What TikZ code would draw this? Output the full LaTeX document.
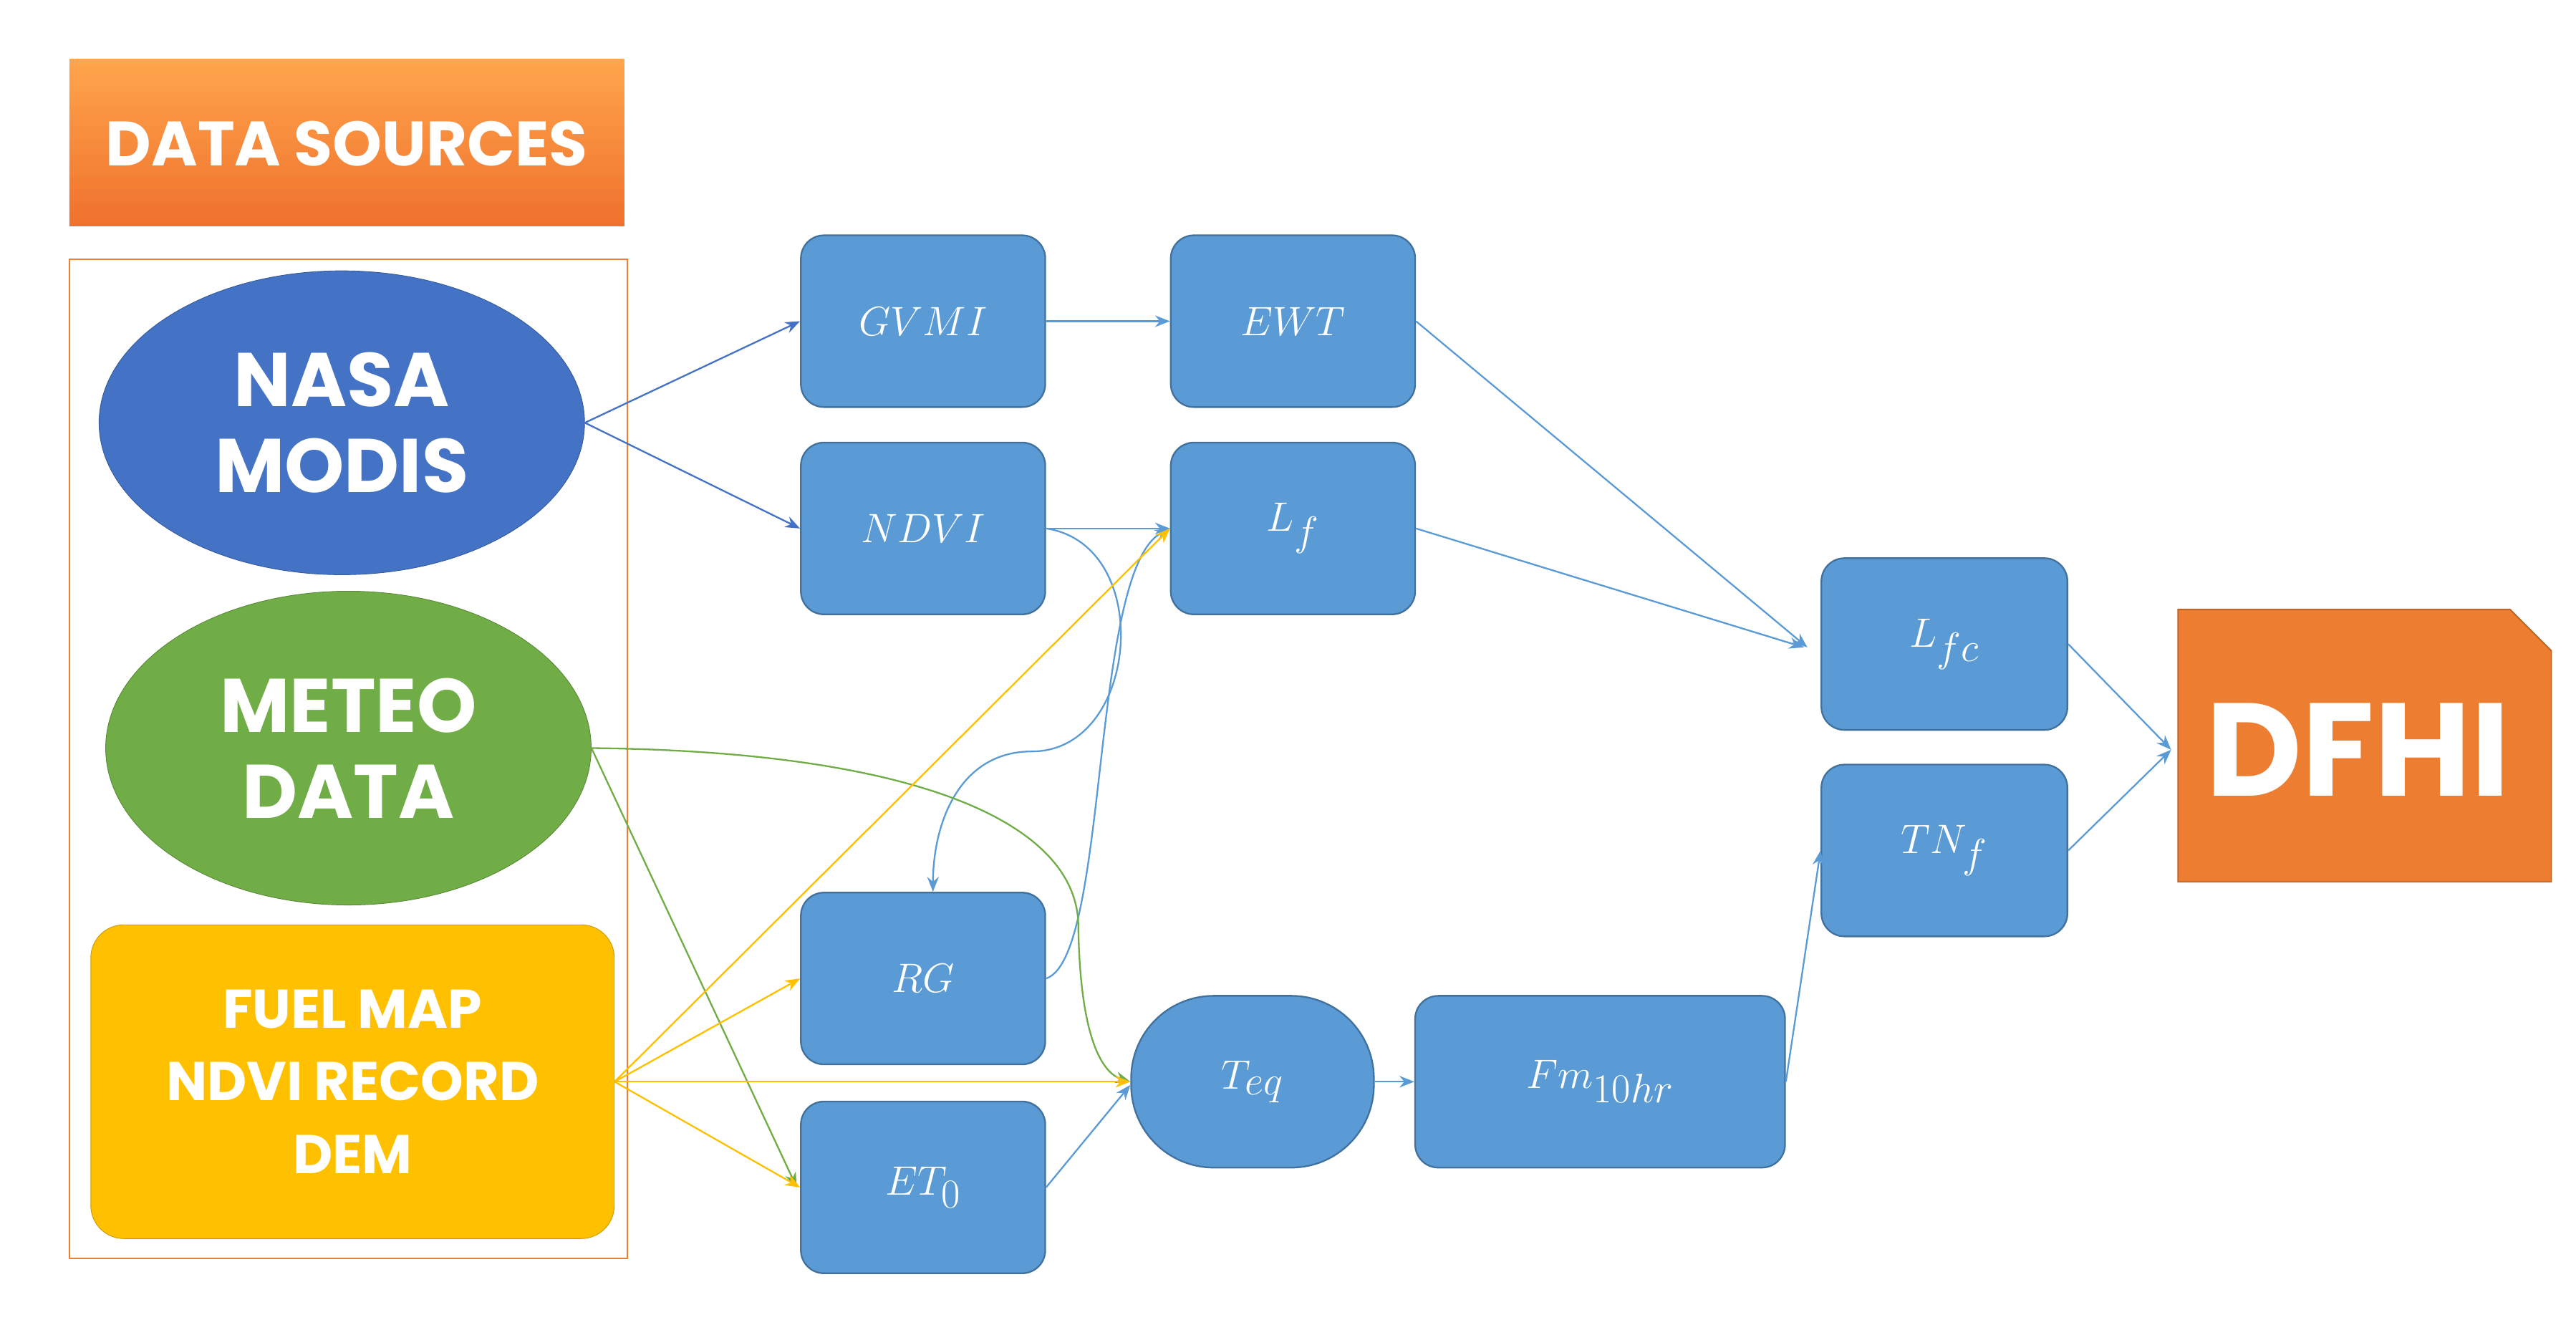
\documentclass[tikz,border=0pt]{standalone}
\usepackage{fontspec}
\setmainfont{Poppins}
\usetikzlibrary{arrows.meta,shapes.geometric}
\definecolor{bx}{HTML}{5B9BD5}
\definecolor{bxd}{HTML}{41719C}
\definecolor{nasa}{HTML}{4472C4}
\definecolor{met}{HTML}{70AD47}
\definecolor{fuel}{HTML}{FFC000}
\definecolor{org}{HTML}{ED7D31}
\tikzset{
 box/.style={draw=bxd,fill=bx,rounded corners=14pt,line width=1pt,text=white,minimum width=148pt,minimum height=104pt,font=\fontsize{52}{60}\selectfont},
 ar/.style={line width=1pt,-{Stealth[length=9pt,width=7pt]}},
 bl/.style={ar,draw=bx},
}
\begin{document}
\begin{tikzpicture}[x=1pt,y=-1pt]
\useasboundingbox (0,0) rectangle (1560,799);
% data sources
\shade[top color=orange!70!white,bottom color=org!90!red,draw=none] (42,36) rectangle (378,137);
\node[text=white,font=\fontsize{38}{44}\selectfont\bfseries] (ds) at (210,87) {DATA SOURCES};
\node[draw=org,line width=1pt,minimum width=338pt,minimum height=605pt,inner sep=0] (frame) at (211,459.5) {};
\node[ellipse,fill=nasa,draw=nasa!80!black,minimum width=294pt,minimum height=184pt,text=white,font=\fontsize{46}{52}\selectfont\bfseries,align=center] (nasa) at (207,256) {NASA\\MODIS};
\node[ellipse,fill=met,draw=met!80!black,minimum width=294pt,minimum height=190pt,text=white,font=\fontsize{46}{52}\selectfont\bfseries,align=center] (met) at (211,453) {METEO\\DATA};
\node[fill=fuel,draw=fuel!80!black,rounded corners=20pt,minimum width=317pt,minimum height=190pt,text=white,font=\fontsize{33}{44}\selectfont\bfseries,align=center] (fuel) at (213.5,655) {FUEL MAP\\NDVI RECORD\\DEM};
% boxes
\node[box] (gvmi) at (559,194.5) {$GVMI$};
\node[box] (ewt) at (783,194.5) {$EWT$};
\node[box] (ndvi) at (559,320) {$NDVI$};
\node[box] (lf) at (783,320) {$L_f$};
\node[box] (rg) at (559,592.5) {$RG$};
\node[box] (et) at (559,719) {$ET_0$};
\node[box,rounded corners=50pt,minimum width=147pt] (teq) at (758.5,655) {$T_{eq}$};
\node[box,minimum width=224pt] (fm) at (969,655) {$Fm_{10hr}$};
\node[box,minimum width=149pt] (lfc) at (1177.5,390) {$L_{fc}$};
\node[box,minimum width=149pt] (tnf) at (1177.5,515) {$TN_f$};
\fill[org] (1319,369) -- (1520,369) -- (1545,394) -- (1545,534) -- (1319,534) -- cycle;
\draw[org!80!black,line width=0.8pt] (1319,369) -- (1520,369) -- (1545,394) -- (1545,534) -- (1319,534) -- cycle;
\node[text=white,font=\fontsize{80}{90}\selectfont\bfseries,minimum width=226pt,minimum height=165pt] (dfhi) at (1428,454) {DFHI};
% connectors
\draw[ar,draw=nasa] (nasa.east) -- (gvmi.west);
\draw[ar,draw=nasa] (nasa.east) -- (ndvi.west);
\draw[bl] (gvmi) -- (ewt);
\draw[bl] (ndvi) -- (lf);
\draw[bl] (ewt.east) -- ([xshift=-8pt,yshift=-2pt]lfc.west);
\draw[bl] (lf.east) -- ([xshift=-10pt,yshift=-2pt]lfc.west);
\draw[bl] (ndvi.east) .. controls (700,330) and (690,455) .. (625,455) .. controls (580,455) and (565,500) .. ([xshift=6pt]rg.north);
\draw[bl] (rg.east) .. controls (672,580) and (660,345) .. (lf.west);
\draw[ar,draw=met] (met.east) -- ([xshift=-2pt]et.west);
\draw[ar,draw=met] (met.east) .. controls (560,455) and (652,500) .. (653,560) .. controls (654,630) and (668,650) .. (teq.west);
\draw[ar,draw=fuel] (fuel.east) -- (lf.west);
\draw[ar,draw=fuel] (fuel.east) -- (rg.west);
\draw[ar,draw=fuel] (fuel.east) -- (teq.west);
\draw[ar,draw=fuel] (fuel.east) -- (et.west);
\draw[bl] (et.east) -- ([yshift=-2pt]teq.west);
\draw[bl] (teq) -- (fm);
\draw[bl] (fm.east) -- (tnf.west);
\draw[bl] (lfc.east) -- (dfhi.west);
\draw[bl] (tnf.east) -- (dfhi.west);
\end{tikzpicture}
\end{document}
